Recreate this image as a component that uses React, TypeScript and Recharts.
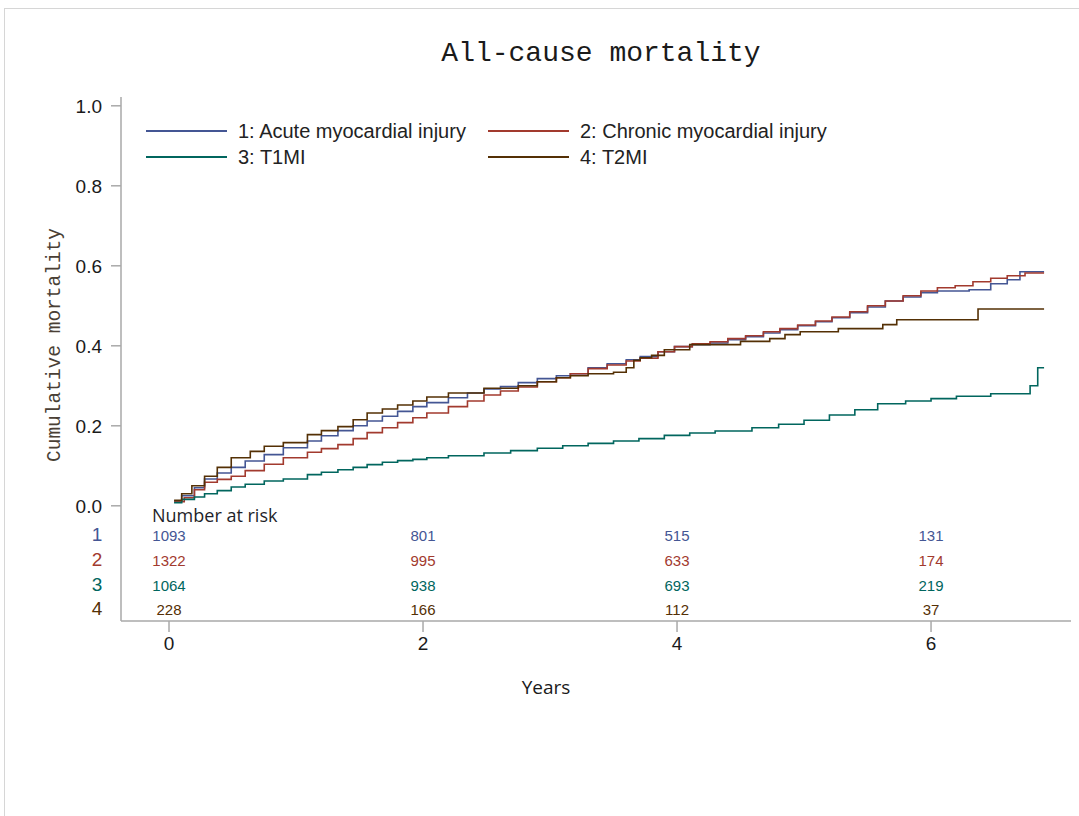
import React from 'react';
import { ComposedChart, Line, Scatter, XAxis, YAxis, Legend, Label } from 'recharts';

// ---------- data ----------
const groupNames = ['1: Acute myocardial injury', '2: Chronic myocardial injury', '3: T1MI', '4: T2MI'];
const groupIds = ['1', '2', '3', '4'];
const groupColors = ['#445694', '#A23A2E', '#01665E', '#543005'];

const acuteT = [0.04, 0.1, 0.2, 0.28, 0.38, 0.49, 0.6, 0.75, 0.9, 1.09, 1.2, 1.33, 1.45, 1.56, 1.68, 1.8, 1.92, 2.03, 2.2, 2.35, 2.48, 2.61, 2.75, 2.9, 3.05, 3.16, 3.3, 3.45, 3.6, 3.71, 3.85, 3.98, 4.12, 4.26, 4.4, 4.54, 4.68, 4.81, 4.95, 5.09, 5.22, 5.36, 5.5, 5.64, 5.78, 5.92, 6.05, 6.3, 6.47, 6.6, 6.7, 6.89];
const acuteV = [0.012, 0.025, 0.045, 0.067, 0.082, 0.096, 0.112, 0.128, 0.145, 0.162, 0.175, 0.188, 0.2, 0.212, 0.224, 0.236, 0.248, 0.258, 0.27, 0.282, 0.292, 0.298, 0.308, 0.318, 0.325, 0.33, 0.345, 0.355, 0.365, 0.373, 0.385, 0.398, 0.403, 0.407, 0.415, 0.423, 0.432, 0.44, 0.45, 0.46, 0.47, 0.483, 0.497, 0.512, 0.522, 0.533, 0.537, 0.54, 0.555, 0.565, 0.585, 0.585];

const chronicT = [0.04, 0.12, 0.2, 0.28, 0.38, 0.49, 0.6, 0.75, 0.9, 1.09, 1.2, 1.33, 1.45, 1.56, 1.68, 1.8, 1.92, 2.03, 2.2, 2.35, 2.48, 2.61, 2.75, 2.9, 3.05, 3.16, 3.3, 3.45, 3.6, 3.71, 3.85, 3.98, 4.12, 4.26, 4.4, 4.54, 4.68, 4.81, 4.95, 5.09, 5.22, 5.36, 5.5, 5.64, 5.78, 5.92, 6.05, 6.19, 6.33, 6.47, 6.6, 6.74, 6.89];
const chronicV = [0.01, 0.02, 0.04, 0.059, 0.066, 0.074, 0.088, 0.104, 0.12, 0.134, 0.143, 0.153, 0.168, 0.183, 0.195, 0.208, 0.22, 0.232, 0.248, 0.262, 0.277, 0.287, 0.297, 0.31, 0.32, 0.33, 0.343, 0.352, 0.362, 0.369, 0.385, 0.398, 0.405, 0.41, 0.418, 0.425, 0.435, 0.443, 0.452, 0.462, 0.472, 0.485, 0.5, 0.512, 0.525, 0.537, 0.545, 0.55, 0.56, 0.569, 0.575, 0.582, 0.582];

const t1miT = [0.04, 0.1, 0.2, 0.28, 0.38, 0.49, 0.6, 0.75, 0.9, 1.09, 1.2, 1.33, 1.45, 1.56, 1.68, 1.8, 1.92, 2.03, 2.2, 2.48, 2.69, 2.9, 3.1, 3.3, 3.5, 3.7, 3.9, 4.1, 4.3, 4.59, 4.8, 5.0, 5.2, 5.4, 5.58, 5.8, 6.0, 6.2, 6.47, 6.78, 6.84, 6.89];
const t1miV = [0.008, 0.016, 0.022, 0.03, 0.038, 0.047, 0.054, 0.062, 0.067, 0.078, 0.084, 0.09, 0.096, 0.103, 0.109, 0.113, 0.116, 0.12, 0.125, 0.132, 0.138, 0.144, 0.15, 0.156, 0.162, 0.168, 0.176, 0.182, 0.187, 0.195, 0.204, 0.214, 0.227, 0.24, 0.255, 0.262, 0.268, 0.274, 0.28, 0.3, 0.345, 0.345];

const t2miT = [0.04, 0.1, 0.18, 0.28, 0.38, 0.49, 0.64, 0.75, 0.9, 1.09, 1.2, 1.33, 1.45, 1.56, 1.68, 1.8, 1.92, 2.03, 2.2, 2.48, 2.75, 2.9, 3.05, 3.16, 3.3, 3.5, 3.6, 3.66, 3.71, 3.8, 3.9, 4.1, 4.5, 4.73, 4.85, 4.97, 5.27, 5.62, 5.73, 6.37, 6.89];
const t2miV = [0.014, 0.03, 0.05, 0.074, 0.096, 0.12, 0.136, 0.149, 0.158, 0.178, 0.188, 0.198, 0.215, 0.232, 0.242, 0.252, 0.262, 0.272, 0.282, 0.294, 0.3, 0.31, 0.32, 0.325, 0.33, 0.334, 0.345, 0.364, 0.37, 0.376, 0.39, 0.403, 0.411, 0.418, 0.428, 0.435, 0.443, 0.453, 0.465, 0.492, 0.492];

const riskTimes = [0, 2, 4, 6];
const riskAcute = [1093, 801, 515, 131];
const riskChronic = [1322, 995, 633, 174];
const riskT1mi = [1064, 938, 693, 219];
const riskT2mi = [228, 166, 112, 37];

const xTicks = [0, 2, 4, 6];
const yTicks = [0, 0.2, 0.4, 0.6, 0.8, 1.0];

// ---------- layout ----------
const W = 1079;
const H = 816;
const X_DOMAIN = [-0.378, 7.102];
const Y_DOMAIN = [-0.288, 1.022];
const RISK_ROW_Y = [-0.0708, -0.133, -0.196, -0.256];
const RISK_HEADER_Y = -0.024;
const FRAME = '#a9a9a9';
const SANS = '"Liberation Sans", Arial, sans-serif';
const MONO = '"Liberation Mono", "Courier New", monospace';
const OPEN = '"Open Sans", "Noto Sans", sans-serif';

const curveT = [acuteT, chronicT, t1miT, t2miT];
const curveV = [acuteV, chronicV, t1miV, t2miV];
const riskRows = [riskAcute, riskChronic, riskT1mi, riskT2mi];

const renderLegend = (props: any) => {
  const items = (props.payload || []).filter((p: any) => p.type !== 'none');
  return (
    <div style={{ display: 'grid', gridTemplateColumns: '342px 342px' }}>
      {items.map((p: any) => (
        <div key={p.value} style={{ display: 'flex', alignItems: 'center', height: 26 }}>
          <div style={{ width: 81, height: 0, borderTop: `2px solid ${p.color}`, marginRight: 11 }} />
          <span style={{ font: `20px ${SANS}`, color: '#222', whiteSpace: 'nowrap' }}>{p.value}</span>
        </div>
      ))}
    </div>
  );
};

export default function App() {
  const lineData = curveT.map((ts, g) => ts.map((t, i) => ({ t, v: curveV[g][i] })));
  const riskData = riskRows.map((row, g) =>
    riskTimes.map((t, i) => ({ t, v: RISK_ROW_Y[g], n: row[i], first: i === 0 }))
  );
  const headerData = [{ t: 0, v: RISK_HEADER_Y }];

  return (
    <div style={{ position: 'absolute', left: 0, top: 0, width: W, height: H, background: '#fff', overflow: 'hidden' }}>
      <div
        style={{
          position: 'absolute', left: 4, top: 8, width: 1200, height: 1000,
          borderTop: '1px solid #d6d6d6', borderLeft: '1px solid #d6d6d6',
        }}
      />
      <div
        style={{
          position: 'absolute', left: 0, top: 36, width: 1202, textAlign: 'center',
          font: `28px ${MONO}`, color: '#1a1a1a', lineHeight: '36px',
        }}
      >
        All-cause mortality
      </div>
      <div style={{ position: 'absolute', left: 0, top: 0 }}>
        <ComposedChart width={W} height={H} margin={{ top: 97, right: 8, bottom: 165, left: 41 }}>
          <XAxis
            xAxisId="main"
            dataKey="t"
            type="number"
            domain={X_DOMAIN}
            ticks={xTicks}
            height={30}
            axisLine={{ stroke: FRAME, strokeWidth: 1.5 }}
            tickLine={{ stroke: FRAME, strokeWidth: 1.5 }}
            tickSize={11}
            tickMargin={5}
            tick={{ fill: '#1a1a1a', fontSize: 19, fontFamily: SANS }}
          >
            <Label
              content={(p: any) => {
                const vb = p.viewBox;
                return (
                  <text x={vb.x + vb.width / 2 - 50} y={vb.y + 66} textAnchor="middle" dominantBaseline="central"
                    fill="#1a1a1a" fontSize={19} fontFamily={OPEN}>Years</text>
                );
              }}
            />
          </XAxis>
          <XAxis xAxisId="top" orientation="top" type="number" domain={X_DOMAIN} height={0} tick={false} tickLine={false}
            axisLine={{ stroke: FRAME, strokeWidth: 1.5 }} />
          <YAxis
            yAxisId="main"
            dataKey="v"
            type="number"
            domain={Y_DOMAIN}
            ticks={yTicks}
            width={80}
            tickFormatter={(v: number) => v.toFixed(1)}
            axisLine={{ stroke: FRAME, strokeWidth: 1.5 }}
            tickLine={{ stroke: FRAME, strokeWidth: 1.5 }}
            tickSize={10}
            tickMargin={9}
            tick={{ fill: '#1a1a1a', fontSize: 19, fontFamily: SANS }}
          >
            <Label
              content={(p: any) => {
                const vb = p.viewBox;
                const x = vb.x + 14;
                const y = vb.y + vb.height / 2 - 14;
                return (
                  <text x={x} y={y} transform={`rotate(-90 ${x} ${y})`} textAnchor="middle" dominantBaseline="central"
                    fill="#4a3f35" fontSize={19.5} fontFamily={MONO}>Cumulative mortality</text>
                );
              }}
            />
          </YAxis>
          <YAxis yAxisId="right" orientation="right" type="number" domain={Y_DOMAIN} width={0} tick={false} tickLine={false}
            axisLine={{ stroke: FRAME, strokeWidth: 1.5 }} />

          <Legend
            layout="vertical"
            align="center"
            verticalAlign="middle"
            content={renderLegend}
            wrapperStyle={{ left: 146, top: 118, width: 720 }}
          />

          {lineData.map((d, g) => (
            <Line
              key={groupNames[g]}
              xAxisId="main"
              yAxisId="main"
              data={d}
              dataKey="v"
              name={groupNames[g]}
              type="stepAfter"
              stroke={groupColors[g]}
              strokeWidth={1.6}
              dot={false}
              activeDot={false}
              isAnimationActive={false}
            />
          ))}

          <Scatter
            xAxisId="main"
            yAxisId="main"
            data={headerData}
            dataKey="v"
            legendType="none"
            isAnimationActive={false}
            shape={(p: any) => (
              <text x={p.cx - 17} y={p.cy} textAnchor="start" dominantBaseline="central" fill="#1f1f2a"
                fontSize={18} fontFamily={OPEN}>Number at risk</text>
            )}
          />
          {riskData.map((d, g) => (
            <Scatter
              key={'risk' + g}
              xAxisId="main"
              yAxisId="main"
              data={d}
              dataKey="v"
              legendType="none"
              isAnimationActive={false}
              shape={(p: any) => (
                <g>
                  <text x={p.cx} y={p.cy + 1} textAnchor="middle" dominantBaseline="central" fill={groupColors[g]}
                    fontSize={15} fontFamily={SANS}>{p.payload.n}</text>
                  {p.payload.first ? (
                    <text x={p.cx - 72} y={p.cy} textAnchor="middle" dominantBaseline="central" fill={groupColors[g]}
                      fontSize={19} fontFamily={SANS}>{groupIds[g]}</text>
                  ) : null}
                </g>
              )}
            />
          ))}
        </ComposedChart>
      </div>
    </div>
  );
}
